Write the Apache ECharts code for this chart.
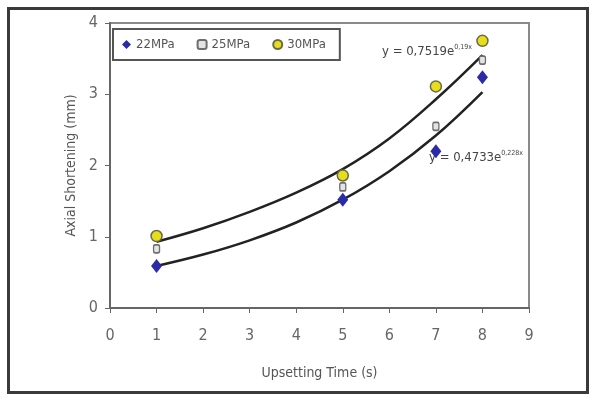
<!DOCTYPE html>
<html>
<head>
<meta charset="utf-8">
<script src="https://cdn.jsdelivr.net/npm/echarts@6/dist/echarts.min.js"></script>
<style>
  html, body { margin: 0; padding: 0; background: #fff; }
  #frame {
    position: absolute; left: 7px; top: 7px; width: 576px; height: 381px;
    border: 3px solid #3a3a3a;
  }
  #chart { position: absolute; left: 0; top: 0; width: 595px; height: 400px; }
</style>
</head>
<body>
<div id="frame"></div>
<div id="chart"></div>
<script>
// measured points, upsetting time (s) vs axial shortening (mm)
var times = [1, 5, 7, 8];
var p22 = [0.59, 1.52, 2.2, 3.24];
var p25 = [0.83, 1.7, 2.55, 3.48];
var p30 = [1.01, 1.86, 3.11, 3.75];

// exponential trend lines at each second
var trendX = [1, 2, 3, 4, 5, 6, 7, 8];
var trendUpper = [0.93, 1.12, 1.35, 1.62, 1.95, 2.38, 2.93, 3.55];
var trendLower = [0.59, 0.75, 0.95, 1.2, 1.52, 1.92, 2.42, 3.03];

var font = "'DejaVu Sans Condensed', 'Liberation Sans Narrow', 'Liberation Sans', sans-serif";

function pairs(xs, ys) {
  var arr = [];
  for (var i = 0; i < xs.length; i++) arr.push([xs[i], ys[i]]);
  return arr;
}

var myChart = echarts.init(document.getElementById("chart"));
var option = {
  animation: false,
  textStyle: { fontFamily: font },
  grid: { left: 110, right: 66, top: 23, bottom: 92, show: true, borderColor: "#8a8a8a", borderWidth: 2 },
  legend: {
    left: 113, top: 29,
    itemWidth: 9, itemHeight: 9, itemGap: 22,
    padding: [9, 14, 9, 9],
    borderColor: "#555", borderWidth: 2,
    backgroundColor: "#fff",
    textStyle: { fontFamily: font, fontSize: 13, color: "#555" },
    data: ["22MPa", "25MPa", "30MPa"],
  },
  xAxis: {
    type: "value", min: 0, max: 9, interval: 1,
    name: "Upsetting Time (s)", nameLocation: "middle", nameGap: 58,
    nameTextStyle: { fontFamily: font, fontSize: 14, color: "#555" },
    axisLine: { lineStyle: { color: "#666", width: 2 } },
    axisTick: { show: true, length: 5, lineStyle: { color: "#666" } },
    axisLabel: { fontFamily: font, fontSize: 16, color: "#666", margin: 20 },
    splitLine: { show: false },
  },
  yAxis: {
    type: "value", min: 0, max: 4, interval: 1,
    name: "Axial Shortening (mm)", nameLocation: "middle", nameGap: 32,
    nameTextStyle: { fontFamily: font, fontSize: 14, color: "#555" },
    axisLine: { show: true, lineStyle: { color: "#666", width: 2 } },
    axisTick: { show: true, length: 5, lineStyle: { color: "#666" } },
    axisLabel: { fontFamily: font, fontSize: 16, color: "#666", margin: 12 },
    splitLine: { show: false },
  },
  series: [
    {
      name: "upper", type: "line", smooth: 0.4, symbol: "none",
      data: pairs(trendX, trendUpper),
      lineStyle: { color: "#222", width: 2.5 }, z: 2,
    },
    {
      name: "lower", type: "line", smooth: 0.4, symbol: "none",
      data: pairs(trendX, trendLower),
      lineStyle: { color: "#222", width: 2.5 }, z: 2,
    },
    {
      name: "22MPa", type: "scatter", symbol: "diamond", symbolSize: [11, 14],
      data: pairs(times, p22),
      itemStyle: { color: "#2b2ba6", opacity: 1 }, z: 3,
    },
    {
      name: "25MPa", type: "scatter", symbol: "roundRect", symbolSize: [6, 8],
      data: pairs(times, p25),
      itemStyle: { color: "#e4e4e4", borderColor: "#6e6e6e", borderWidth: 1.5, opacity: 1 }, z: 3,
    },
    {
      name: "30MPa", type: "scatter", symbol: "circle", symbolSize: 11,
      data: pairs(times, p30),
      itemStyle: { color: "#e6de18", borderColor: "#6a6a4a", borderWidth: 1.5, opacity: 1 }, z: 3,
    },
  ],
  graphic: [
    {
      type: "text", left: 382, top: 44,
      style: {
        text: "{a|y = 0,7519e}{s|0,19x}",
        rich: {
          a: { fontFamily: font, fontSize: 13, fill: "#444" },
          s: { fontFamily: font, fontSize: 7, fill: "#444", verticalAlign: "top", padding: [0, 0, 8, 0] },
        },
      },
    },
    {
      type: "text", left: 429, top: 150,
      style: {
        text: "{a|y = 0,4733e}{s|0,228x}",
        rich: {
          a: { fontFamily: font, fontSize: 13, fill: "#444" },
          s: { fontFamily: font, fontSize: 7, fill: "#444", verticalAlign: "top", padding: [0, 0, 8, 0] },
        },
      },
    },
  ],
};
myChart.setOption(option, true);
</script>
</body>
</html>
